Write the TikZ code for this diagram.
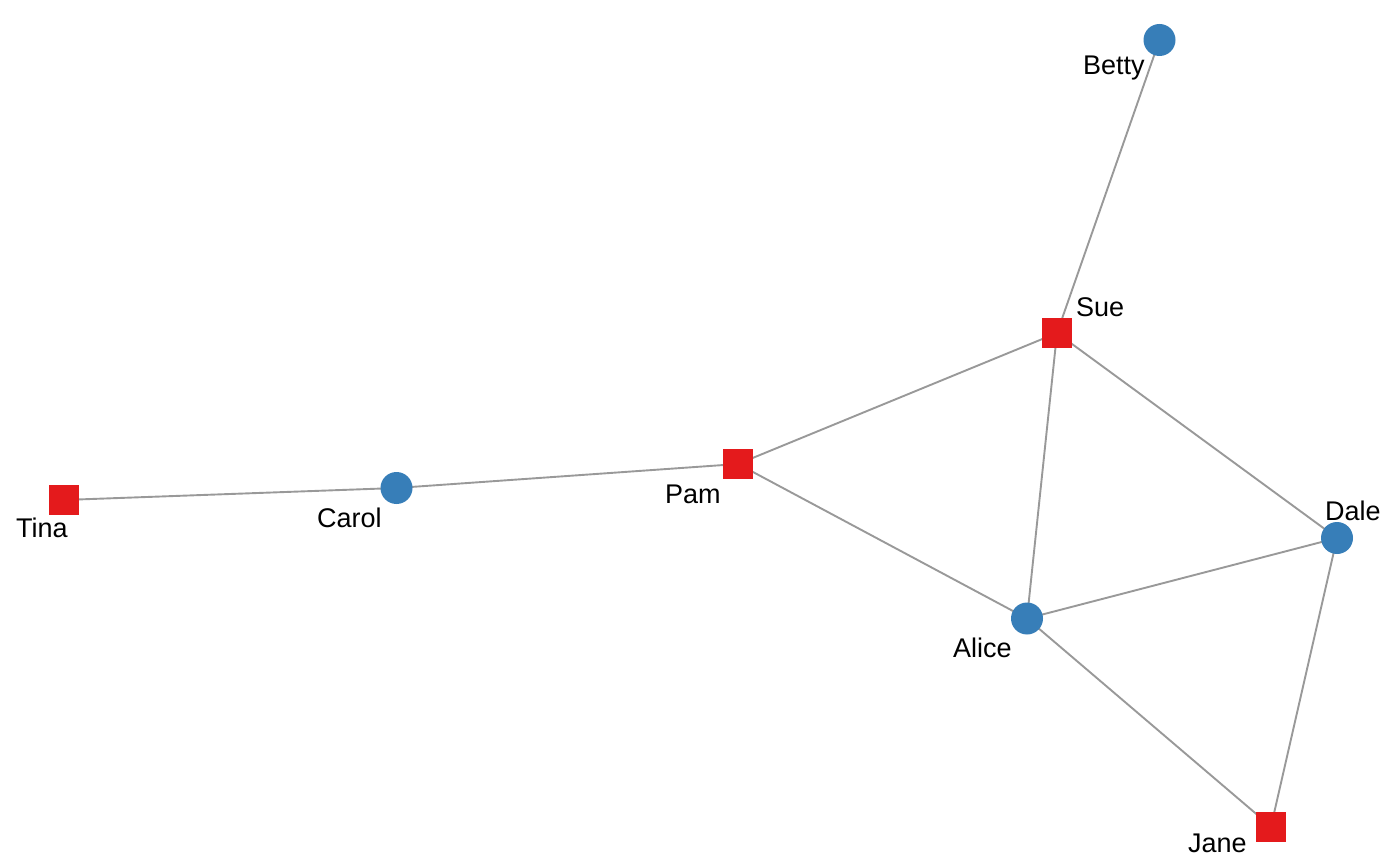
\documentclass[tikz,border=0pt]{standalone}
\usepackage{fontspec}
\setmainfont{Liberation Sans}
\definecolor{nred}{HTML}{E41A1C}
\definecolor{nblue}{HTML}{377EB8}
\definecolor{egray}{HTML}{999999}
\pgfdeclarelayer{bg}
\pgfsetlayers{bg,main}
\tikzset{
  fnode/.style={circle, fill=nblue, inner sep=0pt, minimum size=32pt, draw=none},
  mnode/.style={rectangle, fill=nred, inner sep=0pt, minimum size=30pt, draw=none},
  lab/.style={anchor=base west, inner sep=0pt, font=\fontsize{27}{32}\selectfont, text=black},
  edge/.style={draw=egray, line width=1.9pt}
}
\begin{document}
\begin{tikzpicture}[x=1pt,y=-1pt]
\useasboundingbox (0,0) rectangle (1400,866);
\node[fnode] (Betty) at (1159.5,40) {};
\node[mnode] (Sue) at (1057,333) {};
\node[mnode] (Pam) at (738,464) {};
\node[fnode] (Carol) at (396.5,488) {};
\node[mnode] (Tina) at (63.5,500) {};
\node[fnode] (Dale) at (1337,538) {};
\node[fnode] (Alice) at (1027,618.5) {};
\node[mnode] (Jane) at (1271,826.5) {};

\node[lab] (tBetty) at (1083,75) {Betty};
\node[lab] (tSue) at (1076,317) {Sue};
\node[lab] (tPam) at (665,503) {Pam};
\node[lab] (tCarol) at (317,527) {Carol};
\node[lab] (tTina) at (16,537) {Tina};
\node[lab] (tDale) at (1325,520) {Dale};
\node[lab] (tAlice) at (953,657) {Alice};
\node[lab] (tJane) at (1188,852) {Jane};

\begin{pgfonlayer}{bg}
\draw[edge] (Betty.center) -- (Sue.center);
\draw[edge] (Sue.center) -- (Pam.center);
\draw[edge] (Sue.center) -- (Alice.center);
\draw[edge] (Sue.center) -- (Dale.center);
\draw[edge] (Pam.center) -- (Carol.center);
\draw[edge] (Carol.center) -- (Tina.center);
\draw[edge] (Pam.center) -- (Alice.center);
\draw[edge] (Alice.center) -- (Dale.center);
\draw[edge] (Alice.center) -- (Jane.center);
\draw[edge] (Dale.center) -- (Jane.center);
\end{pgfonlayer}
\end{tikzpicture}
\end{document}
